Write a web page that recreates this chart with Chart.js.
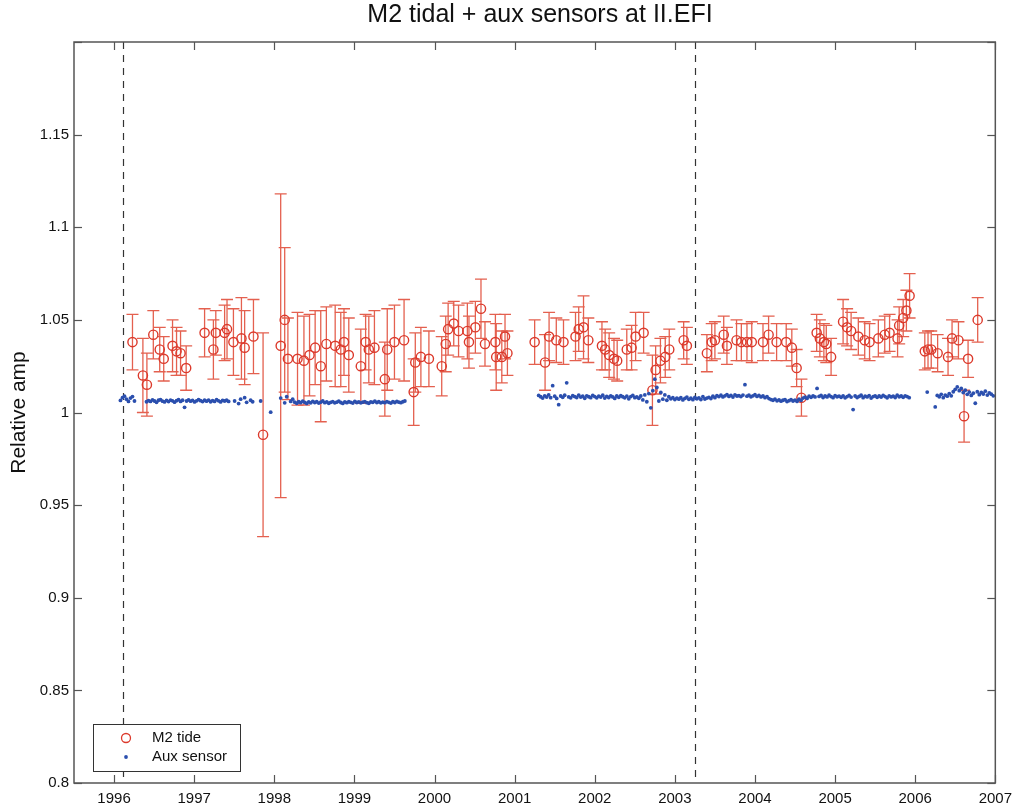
<!DOCTYPE html>
<html>
<head>
<meta charset="utf-8">
<script src="https://cdn.jsdelivr.net/npm/chart.js@4.4.1/dist/chart.umd.min.js"></script>
<style>
  html, body { margin: 0; padding: 0; background: #fff; }
  canvas { display: block; }
</style>
</head>
<body>
<canvas id="chart-tidal" width="1019" height="806"></canvas>
<script>
// M2 tidal amplitude estimates (decimal year, relative amp, 1-sigma error)
const m2Years = [
  1996.23, 1996.36, 1996.41, 1996.49, 1996.57, 1996.62, 1996.73, 1996.78, 1996.83, 1996.90,
  1997.13, 1997.24, 1997.27, 1997.38, 1997.41, 1997.49, 1997.59, 1997.63, 1997.74, 1997.86,
  1998.08, 1998.13, 1998.17, 1998.29, 1998.37, 1998.44, 1998.51, 1998.58, 1998.65, 1998.76,
  1998.83, 1998.87, 1998.93, 1999.08, 1999.14, 1999.18, 1999.25, 1999.38, 1999.41, 1999.50,
  1999.62, 1999.74, 1999.76, 1999.83, 1999.93, 2000.09, 2000.14, 2000.17, 2000.24, 2000.30,
  2000.41, 2000.43, 2000.51, 2000.58, 2000.63, 2000.76, 2000.77, 2000.84, 2000.88, 2000.91,
  2001.25, 2001.38, 2001.43, 2001.52, 2001.61, 2001.76, 2001.80, 2001.86, 2001.92, 2002.09,
  2002.13, 2002.18, 2002.24, 2002.28, 2002.40, 2002.46, 2002.51, 2002.61, 2002.72, 2002.76,
  2002.82, 2002.88, 2002.93, 2003.11, 2003.15, 2003.40, 2003.46, 2003.50, 2003.61, 2003.65,
  2003.77, 2003.83, 2003.90, 2003.96, 2004.10, 2004.17, 2004.27, 2004.39, 2004.46, 2004.52,
  2004.58, 2004.77, 2004.81, 2004.86, 2004.89, 2004.95, 2005.10, 2005.15, 2005.20, 2005.29,
  2005.37, 2005.43, 2005.54, 2005.62, 2005.68, 2005.78, 2005.80, 2005.85, 2005.89, 2005.93,
  2006.12, 2006.16, 2006.20, 2006.28, 2006.41, 2006.46, 2006.54, 2006.61, 2006.66, 2006.78
];
const m2Values = [
  1.038, 1.020, 1.015, 1.042, 1.034, 1.029, 1.036, 1.033, 1.032, 1.024,
  1.043, 1.034, 1.043, 1.043, 1.045, 1.038, 1.040, 1.035, 1.041, 0.988,
  1.036, 1.050, 1.029, 1.029, 1.028, 1.031, 1.035, 1.025, 1.037, 1.036,
  1.034, 1.038, 1.031, 1.025, 1.038, 1.034, 1.035, 1.018, 1.034, 1.038,
  1.039, 1.011, 1.027, 1.030, 1.029, 1.025, 1.037, 1.045, 1.048, 1.044,
  1.044, 1.038, 1.046, 1.056, 1.037, 1.038, 1.030, 1.030, 1.041, 1.032,
  1.038, 1.027, 1.041, 1.039, 1.038, 1.041, 1.045, 1.046, 1.039, 1.036,
  1.034, 1.031, 1.029, 1.028, 1.034, 1.035, 1.041, 1.043, 1.012, 1.023,
  1.028, 1.030, 1.034, 1.039, 1.036, 1.032, 1.038, 1.039, 1.042, 1.036,
  1.039, 1.038, 1.038, 1.038, 1.038, 1.042, 1.038, 1.038, 1.035, 1.024,
  1.008, 1.043, 1.040, 1.038, 1.037, 1.030, 1.049, 1.046, 1.044, 1.041,
  1.039, 1.038, 1.040, 1.042, 1.043, 1.040, 1.047, 1.051, 1.055, 1.063,
  1.033, 1.034, 1.034, 1.032, 1.030, 1.040, 1.039, 0.998, 1.029, 1.050
];
const m2Errors = [
  0.015, 0.020, 0.017, 0.013, 0.012, 0.012, 0.014, 0.013, 0.012, 0.012,
  0.013, 0.016, 0.012, 0.015, 0.016, 0.018, 0.022, 0.020, 0.020, 0.055,
  0.082, 0.039, 0.022, 0.025, 0.024, 0.022, 0.020, 0.030, 0.020, 0.022,
  0.020, 0.018, 0.020, 0.020, 0.015, 0.018, 0.020, 0.020, 0.022, 0.020,
  0.022, 0.018, 0.016, 0.016, 0.015, 0.016, 0.015, 0.014, 0.012, 0.014,
  0.015, 0.014, 0.014, 0.016, 0.012, 0.015, 0.018, 0.014, 0.012, 0.012,
  0.012, 0.015, 0.013, 0.012, 0.012, 0.013, 0.012, 0.017, 0.012, 0.013,
  0.011, 0.012, 0.011, 0.011, 0.011, 0.012, 0.013, 0.011, 0.019, 0.013,
  0.012, 0.011, 0.011, 0.010, 0.010, 0.010, 0.010, 0.010, 0.010, 0.010,
  0.011, 0.010, 0.010, 0.011, 0.010, 0.010, 0.010, 0.010, 0.010, 0.010,
  0.010, 0.010, 0.010, 0.010, 0.010, 0.010, 0.012, 0.010, 0.010, 0.010,
  0.010, 0.010, 0.010, 0.010, 0.010, 0.010, 0.010, 0.010, 0.011, 0.012,
  0.010, 0.010, 0.010, 0.010, 0.010, 0.010, 0.010, 0.014, 0.010, 0.012
];

// Aux sensor record, sampled every 0.025 yr (null = no data)
const auxStep = 0.025;
const aux1Start = 1996.08;
const aux1Values = [
  1.0065, 1.0080, 1.0088, 1.0072, 1.0060, 1.0078, 1.0086, 1.0062,
  null, null, null, null, null,
  1.0058, 1.0064, 1.0060, 1.0068, 1.0062, 1.0055, 1.0066, 1.0070, 1.0061, 1.0057,
  1.0065, 1.0059, 1.0067, 1.0063, 1.0056, 1.0064, 1.0069, 1.0060, 1.0066, 1.0028,
  1.0062, 1.0068, 1.0061, 1.0065, 1.0057, 1.0063, 1.0070, 1.0064, 1.0059, 1.0066,
  1.0061, 1.0067, 1.0058, 1.0064, 1.0060, 1.0069, 1.0063, 1.0057, 1.0065, 1.0062,
  1.0066,
  1.0060, null, null, 1.0062, null,
  1.0048, 1.0072, null, 1.0080, 1.0055, null, 1.0066, 1.0058, null,
  null, null, 1.0062, null, null,
  null, null, 1.0002,
  null, null, null, null,
  1.0078, null, 1.0052, 1.0085, null, 1.0060, 1.0072,
  1.0056, 1.0050, 1.0058, 1.0053, 1.0061, 1.0055, 1.0049, 1.0057, 1.0052, 1.0060,
  1.0054, 1.0058, 1.0051, 1.0056, 1.0062, 1.0053, 1.0057, 1.0050, 1.0055, 1.0059,
  1.0052, 1.0056, 1.0061, 1.0054, 1.0049, 1.0057, 1.0053, 1.0058, 1.0055, 1.0051,
  1.0060, 1.0054, 1.0057, 1.0052, 1.0056, 1.0059, 1.0053, 1.0050, 1.0057, 1.0055,
  1.0061, 1.0054, 1.0058, 1.0052, 1.0056, 1.0053, 1.0059, 1.0055, 1.0051, 1.0058,
  1.0054, 1.0060, 1.0056, 1.0053, 1.0058, 1.0062
];
const aux2Start = 2001.30;
const aux2Values = [
  1.0092, 1.0085, 1.0078, 1.0090, 1.0083, 1.0095, 1.0080, 1.0145, 1.0088, 1.0076,
  1.0042, 1.0089, 1.0082, 1.0093, 1.0160, 1.0084, 1.0079, 1.0091, 1.0086, 1.0081,
  1.0094, 1.0083, 1.0088, 1.0077, 1.0090, 1.0085, 1.0080, 1.0092, 1.0086, 1.0079,
  1.0088, 1.0083, 1.0093, 1.0078, 1.0087, 1.0081, 1.0090, 1.0084, 1.0076, 1.0089,
  1.0082, 1.0091, 1.0085, 1.0079, 1.0088, 1.0074, 1.0086, 1.0092, 1.0080, 1.0084,
  1.0077, 1.0089, 1.0068, 1.0095, 1.0058, 1.0102, 1.0025, 1.0118, 1.0180, 1.0135,
  1.0062, 1.0108, 1.0072, 1.0095, 1.0066, 1.0085, 1.0074, 1.0080, 1.0070, 1.0078,
  1.0072, 1.0080, 1.0068, 1.0076, 1.0083, 1.0071, 1.0077, 1.0069, 1.0081, 1.0074,
  1.0079, 1.0070, 1.0085, 1.0073, 1.0078, 1.0082, 1.0075, 1.0088, 1.0080, 1.0091,
  1.0086, 1.0093, 1.0084, 1.0090, 1.0097, 1.0087, 1.0092, 1.0083, 1.0095, 1.0089,
  1.0091, 1.0086, 1.0094, 1.0150, 1.0088, 1.0093, 1.0085, 1.0090, 1.0096, 1.0087,
  1.0092, 1.0084, 1.0089, 1.0080, 1.0086, 1.0075, 1.0070, 1.0066, 1.0072, 1.0063,
  1.0068, 1.0061, 1.0066, 1.0070, 1.0059, 1.0064, 1.0069, 1.0062, 1.0067, 1.0060,
  1.0072, 1.0065, 1.0078, 1.0083, 1.0076, 1.0088, 1.0082, 1.0090, 1.0084, 1.0130,
  1.0087, 1.0092, 1.0081, 1.0089, 1.0084, 1.0093, 1.0086, 1.0080, 1.0091, 1.0085,
  1.0088, 1.0082, 1.0090, 1.0079, 1.0086, 1.0092, 1.0083, 1.0016, 1.0089, 1.0081,
  1.0087, 1.0093, 1.0080, 1.0088, 1.0084, 1.0091, 1.0078, 1.0086, 1.0090, 1.0082,
  1.0089, 1.0083, 1.0092, 1.0086, 1.0079, 1.0090, 1.0084, 1.0088, 1.0081, 1.0093,
  1.0085, 1.0089, 1.0082, 1.0090, 1.0086, 1.0080
];
const aux3Start = 2006.00;
const aux3Values = [
  null, null, null, null, null, null, 1.0110, null, null, null,
  1.0030, 1.0092, 1.0085, 1.0098, 1.0080, 1.0094, 1.0088, 1.0102, 1.0090, 1.0112,
  1.0125, 1.0138, 1.0118, 1.0130, 1.0108, 1.0120,
  1.0098, 1.0110, 1.0092, 1.0104, 1.0050, 1.0112, 1.0096, 1.0108, 1.0100, 1.0115,
  1.0094, 1.0106, 1.0099, 1.0090
];

const eventYears = [1996.11, 2003.25];
const yearTicks = [1996, 1997, 1998, 1999, 2000, 2001, 2002, 2003, 2004, 2005, 2006, 2007];
const ampTicks = [0.8, 0.85, 0.9, 0.95, 1, 1.05, 1.1, 1.15];
const ampInnerTicks = [0.8, 0.85, 0.9, 0.95, 1, 1.05, 1.1, 1.15, 1.2];

const RED = '#dc3a2c';
const RED_BAR = '#e4604f';
const BLUE = '#2b4fae';
const FRAME = '#555';
const FONT = '"Liberation Sans", Arial, Helvetica, sans-serif';
const CAP = 6;
const TICK = 8;

function auxPoints(start, values) {
  return values
    .map((v, i) => v == null ? null : { x: start + auxStep * i, y: v })
    .filter(Boolean);
}

const m2Points = m2Years.map((yr, i) => ({ x: yr, y: m2Values[i] }));
const auxAll = [
  ...auxPoints(aux1Start, aux1Values),
  ...auxPoints(aux2Start, aux2Values),
  ...auxPoints(aux3Start, aux3Values)
];

function line(ctx, x1, y1, x2, y2) {
  ctx.beginPath(); ctx.moveTo(x1, y1); ctx.lineTo(x2, y2); ctx.stroke();
}

// error bars + dashed event markers, under the markers
const errorBars = {
  id: 'errorBars',
  beforeDatasetsDraw(chart) {
    const { ctx, chartArea: a, scales: { x, y } } = chart;
    ctx.save();
    ctx.beginPath(); ctx.rect(a.left, a.top, a.width, a.height); ctx.clip();

    ctx.strokeStyle = '#333'; ctx.lineWidth = 1.2; ctx.setLineDash([7, 6]);
    eventYears.forEach(yr => {
      const px = Math.round(x.getPixelForValue(yr)) + 0.5;
      line(ctx, px, a.top, px, a.bottom);
    });
    ctx.setLineDash([]);

    ctx.strokeStyle = RED_BAR; ctx.lineWidth = 1.3;
    m2Years.forEach((yr, i) => {
      const px = x.getPixelForValue(yr);
      const top = y.getPixelForValue(m2Values[i] + m2Errors[i]);
      const bot = y.getPixelForValue(m2Values[i] - m2Errors[i]);
      ctx.beginPath();
      ctx.moveTo(px, top); ctx.lineTo(px, bot);
      ctx.moveTo(px - CAP, top); ctx.lineTo(px + CAP, top);
      ctx.moveTo(px - CAP, bot); ctx.lineTo(px + CAP, bot);
      ctx.stroke();
    });
    ctx.restore();
  }
};

// matlab-style box, inward ticks, title, y label, legend
const frame = {
  id: 'frame',
  afterDraw(chart) {
    const { ctx, chartArea: a, scales: { x, y } } = chart;
    ctx.save();
    ctx.strokeStyle = FRAME; ctx.lineWidth = 1.5;
    ctx.strokeRect(a.left, a.top, a.width, a.height);

    ctx.lineWidth = 1.2;
    yearTicks.forEach(v => {
      const px = Math.round(x.getPixelForValue(v)) + 0.5;
      line(ctx, px, a.bottom, px, a.bottom - TICK);
      line(ctx, px, a.top, px, a.top + TICK);
    });
    ampInnerTicks.forEach(v => {
      const py = Math.round(y.getPixelForValue(v)) + 0.5;
      line(ctx, a.left, py, a.left + TICK, py);
      line(ctx, a.right, py, a.right - TICK, py);
    });

    ctx.fillStyle = '#111';
    ctx.font = '25px ' + FONT;
    ctx.textAlign = 'center'; ctx.textBaseline = 'middle';
    ctx.fillText('M2 tidal + aux sensors at II.EFI', 540, 15);

    ctx.save();
    ctx.translate(19, (a.top + a.bottom) / 2);
    ctx.rotate(-Math.PI / 2);
    ctx.font = '21px ' + FONT;
    ctx.fillText('Relative amp', 0, 0);
    ctx.restore();

    // legend box
    const lx = 93, ly = 724, lw = 147, lh = 47;
    ctx.fillStyle = '#fff';
    ctx.fillRect(lx, ly, lw, lh);
    ctx.strokeStyle = '#333'; ctx.lineWidth = 1;
    ctx.strokeRect(lx + 0.5, ly + 0.5, lw, lh);
    ctx.strokeStyle = RED; ctx.lineWidth = 1.3;
    ctx.beginPath(); ctx.arc(126, 738, 4.5, 0, Math.PI * 2); ctx.stroke();
    ctx.fillStyle = BLUE;
    ctx.beginPath(); ctx.arc(126, 757, 1.9, 0, Math.PI * 2); ctx.fill();
    ctx.fillStyle = '#111';
    ctx.font = '15px ' + FONT;
    ctx.textAlign = 'left';
    ctx.fillText('M2 tide', 152, 738);
    ctx.fillText('Aux sensor', 152, 757);
    ctx.restore();
  }
};

new Chart(document.getElementById('chart-tidal'), {
  type: 'scatter',
  data: {
    datasets: [
      {
        label: 'M2 tide',
        data: m2Points,
        pointStyle: 'circle',
        pointRadius: 4.6,
        pointBorderWidth: 1.4,
        borderColor: RED,
        backgroundColor: 'rgba(0,0,0,0)',
        order: 2
      },
      {
        label: 'Aux sensor',
        data: auxAll,
        pointRadius: 1.9,
        pointBorderWidth: 0,
        backgroundColor: BLUE,
        borderColor: BLUE,
        order: 1
      }
    ]
  },
  options: {
    responsive: false,
    animation: false,
    layout: { padding: { top: 42, right: 19, left: 0, bottom: 0 } },
    plugins: {
      legend: { display: false },
      title: { display: false },
      tooltip: { enabled: false }
    },
    scales: {
      x: {
        type: 'linear',
        min: 1995.5, max: 2007,
        grid: { display: false, drawTicks: false },
        border: { display: false },
        afterBuildTicks: s => { s.ticks = yearTicks.map(v => ({ value: v })); },
        afterFit: s => { s.height = 23; },
        ticks: {
          autoSkip: false, maxRotation: 0, padding: 7,
          color: '#111', font: { family: FONT, size: 15 },
          callback: v => String(v)
        }
      },
      y: {
        min: 0.8, max: 1.2,
        grid: { display: false, drawTicks: false },
        border: { display: false },
        afterBuildTicks: s => { s.ticks = ampTicks.map(v => ({ value: v })); },
        afterFit: s => { s.width = 74; },
        ticks: {
          autoSkip: false, padding: 5,
          color: '#111', font: { family: FONT, size: 15 },
          callback: v => String(Number(v.toFixed(2)))
        }
      }
    }
  },
  plugins: [errorBars, frame]
});
</script>
</body>
</html>
